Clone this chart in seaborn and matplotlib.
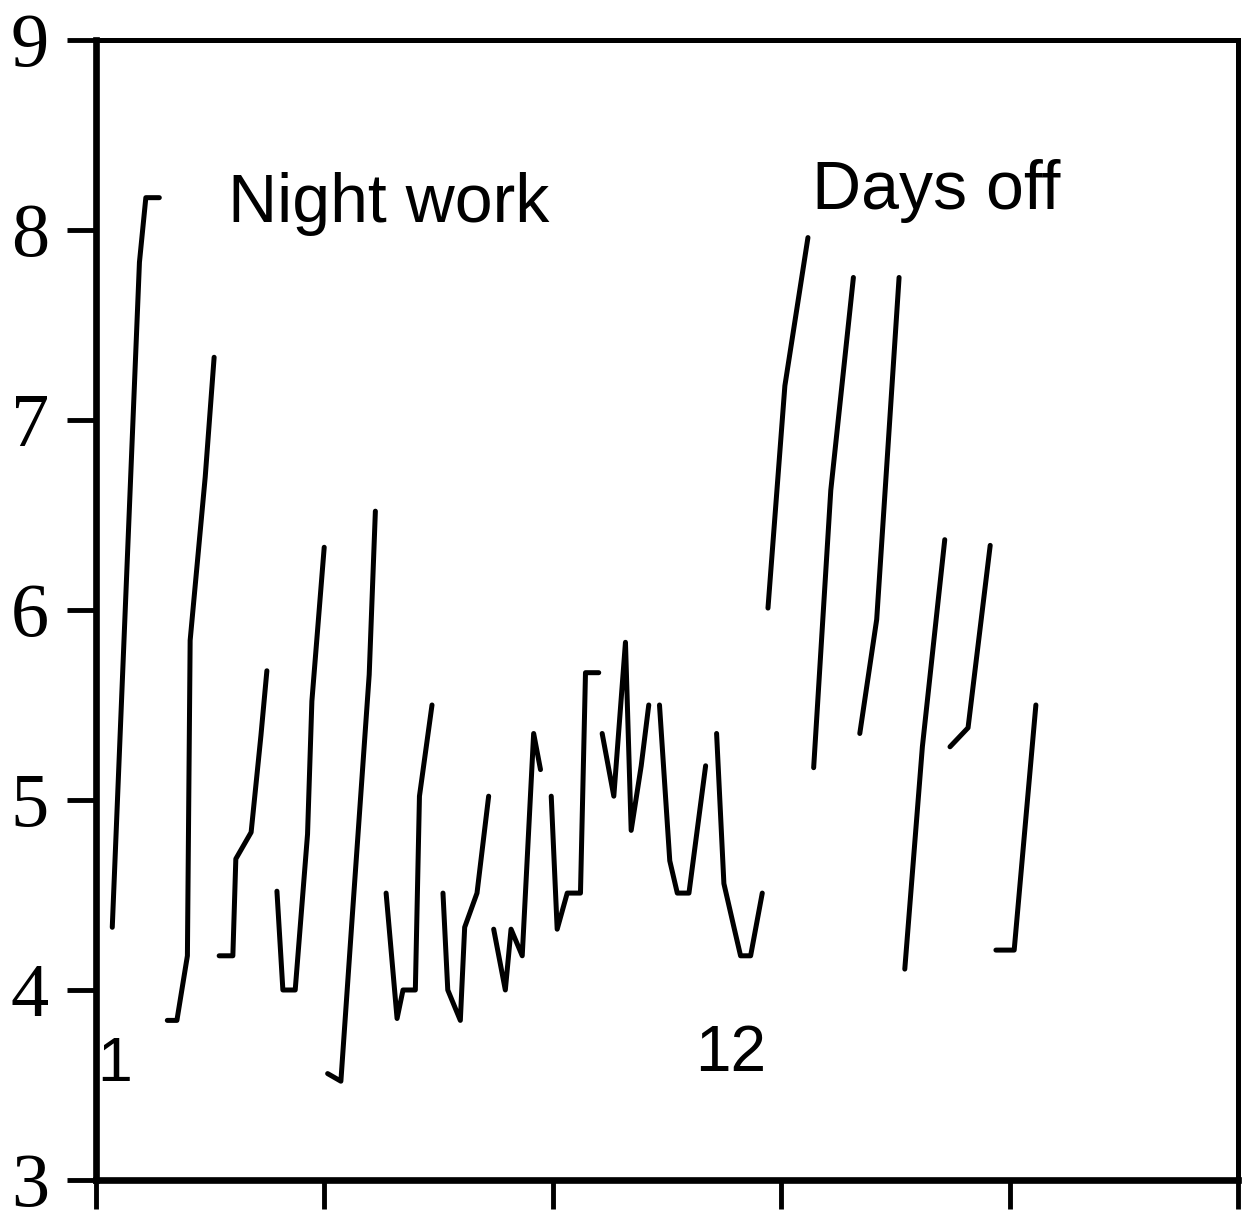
import pandas as pd
import matplotlib
matplotlib.use("Agg")
import matplotlib.pyplot as plt
import seaborn as sns

# sleep episodes: hours from start, value
night_hours = [
    [7.1, 19.0, 21.8, 27.7],
    [31.2, 35.4, 40.0, 41.2, 47.8, 51.7],
    [53.9, 59.9, 61.2, 67.9, 72.2, 74.8],
    [79.2, 81.8, 87.2, 92.6, 94.5, 99.9],
    [101.4, 107.2, 112.2, 119.6, 122.3],
    [127.0, 131.8, 134.4, 139.8, 141.6, 147.1],
    [151.9, 154.0, 159.5, 161.4, 166.8, 171.9],
    [174.1, 179.2, 181.7, 186.6, 191.6, 194.6],
    [199.3, 201.9, 206.3, 212.1, 214.3, 220.1],
    [221.6, 226.7, 231.8, 234.3, 238.7, 242.0],
    [246.7, 251.2, 254.5, 259.6, 266.9],
    [271.7, 274.9, 279.3, 282.2, 286.6, 291.7],
]
night_vals = [
    [4.33, 7.83, 8.17, 8.17],
    [3.84, 3.84, 4.18, 5.84, 6.70, 7.33],
    [4.18, 4.18, 4.69, 4.83, 5.34, 5.68],
    [4.52, 4.00, 4.00, 4.82, 5.52, 6.33],
    [3.56, 3.52, 4.39, 5.66, 6.52],
    [4.51, 3.85, 4.00, 4.00, 5.02, 5.50],
    [4.51, 4.00, 3.84, 4.33, 4.51, 5.02],
    [4.32, 4.00, 4.32, 4.18, 5.35, 5.16],
    [5.02, 4.32, 4.51, 4.51, 5.67, 5.67],
    [5.35, 5.02, 5.83, 4.84, 5.18, 5.50],
    [5.50, 4.68, 4.51, 4.51, 5.18],
    [5.35, 4.56, 4.33, 4.18, 4.18, 4.51],
]
off_hours = [
    [294.2, 301.6, 311.7],
    [314.2, 321.7, 331.6],
    [334.4, 341.8, 351.6],
    [354.1, 361.8, 371.6],
    [373.9, 381.8, 391.5],
    [394.0, 402.0, 411.5],
]
off_vals = [
    [6.01, 7.18, 7.96],
    [5.17, 6.63, 7.75],
    [5.35, 5.95, 7.75],
    [4.11, 5.28, 6.37],
    [5.28, 5.38, 6.34],
    [4.21, 4.21, 5.50],
]

y_ticks = [3, 4, 5, 6, 7, 8, 9]
x_ticks = [0, 100, 200, 300, 400, 500]

rows = []
for k, (hs, vs) in enumerate(zip(night_hours + off_hours, night_vals + off_vals)):
    for h, v in zip(hs, vs):
        rows.append({'hour': h, 'value': v, 'episode': k})
df = pd.DataFrame(rows)

sns.set_style("ticks")
plt.rcParams['font.family'] = ['Liberation Sans', 'DejaVu Sans']
plt.rcParams['text.color'] = 'black'
plt.rcParams['xtick.color'] = 'black'
plt.rcParams['ytick.color'] = 'black'
plt.rcParams['axes.labelcolor'] = 'black'

fig = plt.figure(figsize=(12.49, 12.11), dpi=100)
ax = fig.add_axes([0.0769, 0.0256, 0.9143, 0.9414])

sns.lineplot(data=df, x='hour', y='value', units='episode', estimator=None,
             sort=False, color='black', linewidth=3.6, ax=ax,
             solid_capstyle='round')

ax.set_xlim(0, 500)
ax.set_ylim(3, 9)
ax.set_xticks(x_ticks)
ax.set_yticks(y_ticks)
ax.set_xticklabels([])
ax.set_yticklabels([str(t) for t in y_ticks], family='Liberation Serif',
                   fontsize=55, color='black')
ax.set(xlabel='', ylabel='')
ax.tick_params(axis='both', direction='out', length=21, width=3.5,
               color='black', labelcolor='black', pad=13)

for side in ['left', 'bottom']:
    ax.spines[side].set_linewidth(4.8)
for side in ['top', 'right']:
    ax.spines[side].set_linewidth(3.6)
for s in ax.spines.values():
    s.set_color('black')
    s.set_visible(True)

ax.text(57.8, 8.04, 'Night work', fontsize=49, color='black', ha='left', va='baseline')
ax.text(313.3, 8.11, 'Days off', fontsize=49, color='black', ha='left', va='baseline')
ax.text(0.5, 3.52, '1', fontsize=45, color='black', ha='left', va='baseline')
ax.text(262.5, 3.575, '12', fontsize=46, color='black', ha='left', va='baseline')

fig.savefig('out.png', dpi=100)
